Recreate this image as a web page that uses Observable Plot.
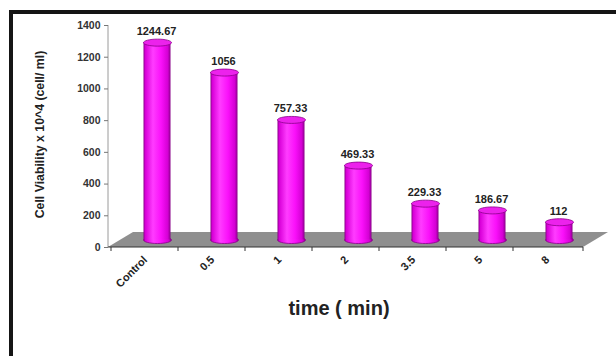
<!DOCTYPE html>
<html><head><meta charset="utf-8">
<script src="https://cdn.jsdelivr.net/npm/d3@7"></script>
<script src="https://cdn.jsdelivr.net/npm/@observablehq/plot@0.6"></script>
<style>
html,body{margin:0;padding:0;background:#fff;overflow:hidden;width:616px;height:356px}
#wrap{position:relative;width:616px;height:356px;overflow:hidden}
#wrap svg{position:absolute;left:0;top:0}
#frame{position:absolute;left:9px;top:10px;width:700px;height:400px;border-top:4px solid #151515;border-left:4px solid #151515;pointer-events:none}
</style></head><body><div id="wrap"><div id="frame"></div></div>
<script>
const categories = ["Control", "0.5", "1", "2", "3.5", "5", "8"];
const values = [1244.67, 1056, 757.33, 469.33, 229.33, 186.67, 112];
const valueLabels = ["1244.67", "1056", "757.33", "469.33", "229.33", "186.67", "112"];
const yTicks = [0, 200, 400, 600, 800, 1000, 1200, 1400];
const yTitle = "Cell Viability x 10^4 (cell/ ml)";
const xTitle = "time ( min)";

const data = categories.map((c, i) => ({c, v: values[i], label: valueLabels[i]}));

const DX = 12.5, DY = -7.5; // half depth of 3D effect
const FONT = "'Liberation Sans', Arial, sans-serif";

const ellipse = {
  draw(ctx) {
    const rx = 14, ry = 3.5, k = 0.5523;
    ctx.moveTo(-rx, 0);
    ctx.bezierCurveTo(-rx, -ry * k, -rx * k, -ry, 0, -ry);
    ctx.bezierCurveTo(rx * k, -ry, rx, -ry * k, rx, 0);
    ctx.bezierCurveTo(rx, ry * k, rx * k, ry, 0, ry);
    ctx.bezierCurveTo(-rx * k, ry, -rx, ry * k, -rx, 0);
    ctx.closePath();
  }
};

function floor(index, scales, vals, dims) {
  const g = d3.create("svg:g");
  const x0 = dims.marginLeft, x1 = dims.width - dims.marginRight;
  const y0 = scales.y(0), yTop = scales.y(yTicks[yTicks.length - 1]);
  g.append("polygon")
    .attr("points", [[x0, y0], [x1, y0], [x1 + 2 * DX, y0 + 2 * DY], [x0 + 2 * DX, y0 + 2 * DY]].join(" "))
    .attr("fill", "#8f8f8f");
  g.append("line").attr("x1", x0).attr("x2", x0).attr("y1", y0).attr("y2", yTop)
    .attr("stroke", "#9a9a9a");
  g.append("line").attr("x1", x0).attr("x2", x1).attr("y1", y0).attr("y2", y0)
    .attr("stroke", "#333");
  const edges = categories.map(c => scales.x(c)).concat([x1]);
  for (const e of edges) {
    g.append("line").attr("x1", e).attr("x2", e).attr("y1", y0).attr("y2", y0 + 4)
      .attr("stroke", "#333");
  }
  return g.node();
}

const svg = Plot.plot({
  width: 616,
  height: 356,
  marginLeft: 108,
  marginRight: 33,
  marginTop: 25,
  marginBottom: 109,
  style: {fontFamily: FONT, fontWeight: "bold", fontSize: "10px", color: "#333", background: "transparent"},
  x: {domain: categories, padding: 0, axis: null},
  y: {domain: [0, 1400], axis: null},
  marks: [
    floor,
    Plot.axisY(yTicks, {tickSize: 4, tickPadding: 4, stroke: "#777", fill: "#333", fontSize: 10.5, fontWeight: "bold", tickFormat: d => String(d), label: null}),
    Plot.dot(data, {x: "c", y: 0, symbol: ellipse, fill: "url(#cyl)", stroke: "#8a008a", strokeWidth: 0.8, dx: DX, dy: DY}),
    Plot.barY(data, {x: "c", y: "v", fill: "url(#cyl)", insetLeft: 20, insetRight: 20, dx: DX, dy: DY}),
    Plot.dot(data, {x: "c", y: "v", symbol: ellipse, fill: "#ec22ec", stroke: "#8a008a", strokeWidth: 0.8, dx: DX, dy: DY}),
    Plot.text(data, {x: "c", y: "v", text: "label", dx: DX - 1, dy: -15, lineAnchor: "bottom", fontSize: 11, fontWeight: "bold", fill: "#222"}),
    Plot.text(categories, {x: d => d, frameAnchor: "bottom", rotate: -45, textAnchor: "end", dx: 3, dy: 13, fontSize: 11, fontWeight: "bold", fill: "#222"}),
    Plot.text([yTitle], {frameAnchor: "left", dx: -68, dy: -2, rotate: -90, textAnchor: "middle", lineAnchor: "middle", fontSize: 12.3, fontWeight: "bold", fill: "#222"}),
    Plot.text([xTitle], {frameAnchor: "bottom", dx: -7, dy: 67, fontSize: 20, fontWeight: "bold", fill: "#222"})
  ]
});

const defs = d3.select(svg).insert("defs", ":first-child");
const grad = defs.append("linearGradient").attr("id", "cyl").attr("x1", "0").attr("x2", "1").attr("y1", "0").attr("y2", "0");
[[0, "#8a008a"], [0.07, "#d800d8"], [0.35, "#ff3cff"], [0.65, "#fa10fa"], [0.9, "#d400d4"], [1, "#880088"]]
  .forEach(([o, c]) => grad.append("stop").attr("offset", o).attr("stop-color", c));

document.getElementById("wrap").insertBefore(svg, document.getElementById("frame"));
</script>
</body></html>
